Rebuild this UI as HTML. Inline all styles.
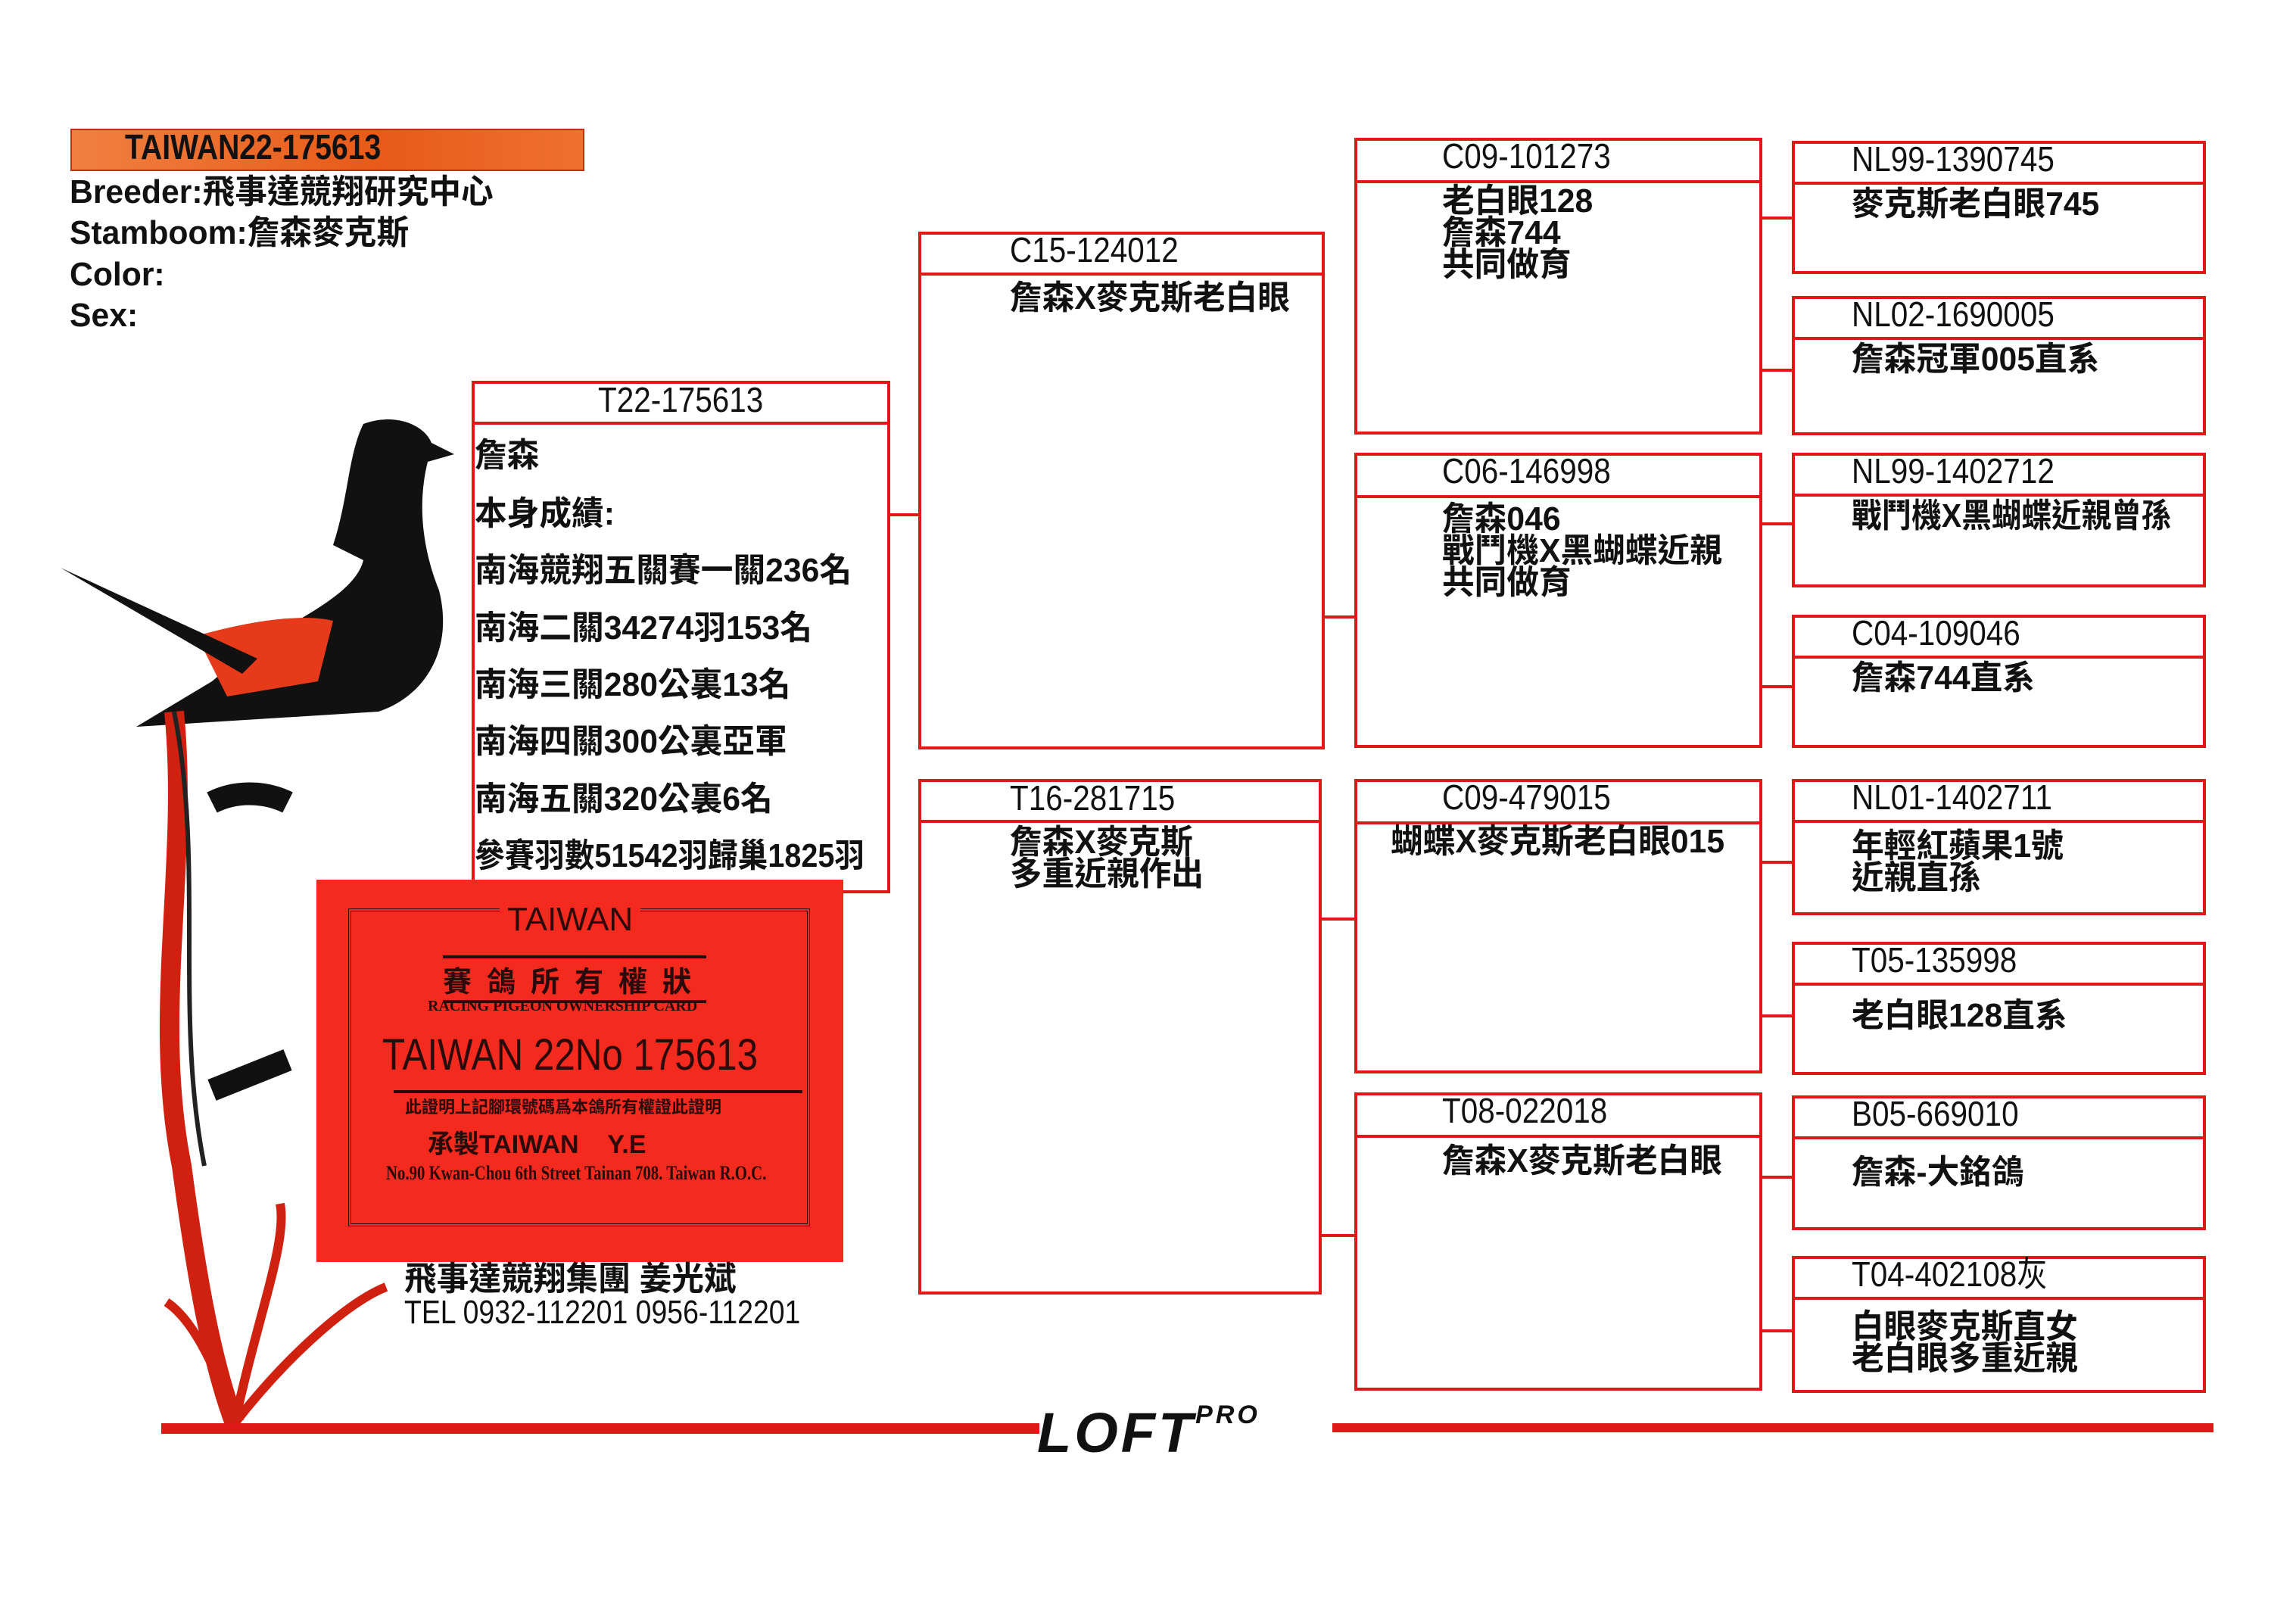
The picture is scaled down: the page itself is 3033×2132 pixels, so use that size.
<!DOCTYPE html>
<html><head><meta charset="utf-8"><style>
body{margin:0;width:3033px;height:2132px;background:#fff;position:relative;overflow:hidden;font-family:"Liberation Sans","Noto Sans CJK TC",sans-serif;font-weight:bold;color:#111}
.a{position:absolute}
.box{position:absolute;border:4px solid #e01818;box-sizing:border-box}
.hl{position:absolute;left:0;right:0;border-top:4px solid #e01818}
.t{position:absolute;white-space:nowrap;font-size:44px;line-height:44px;transform-origin:0 0;transform:scaleX(0.97)}
.h{font-weight:normal;font-size:46px;transform:scaleX(0.88)}
.c{position:absolute;background:#e01818;height:4px}
</style></head><body>

<div class="a" style="left:93px;top:170px;width:675px;height:52px;background:linear-gradient(90deg,#f08040,#e85a18 60%,#f07030);border:2px solid #c03010"></div>
<div class="t" style="left:165px;top:172px;font-size:46px;transform:scaleX(0.85)">TAIWAN22-175613</div>
<div class="t" style="left:92px;top:232px">Breeder:飛事達競翔研究中心</div>
<div class="t" style="left:92px;top:286px">Stamboom:詹森麥克斯</div>
<div class="t" style="left:92px;top:341px">Color:</div>
<div class="t" style="left:92px;top:395px">Sex:</div>

<!-- pigeon -->
<svg class="a" style="left:80px;top:540px" width="560" height="1360" viewBox="0 0 560 1360">
<path d="M400 20 C440 5 480 20 490 45 L520 60 L485 70 C470 130 480 190 500 240 C520 320 480 380 420 400 L260 410 L100 420 L200 360 L260 310 C330 270 390 240 400 200 L360 180 C380 120 380 60 400 20Z" fill="#111"/>
<path d="M180 300 C250 280 320 270 360 280 L340 360 L220 380Z" fill="#e63a1a"/>
<path d="M0 210 L260 330 L240 350Z" fill="#111"/>
<path d="M150 400 C170 600 120 800 160 1000 C180 1150 200 1260 230 1340" stroke="#d02010" stroke-width="26" fill="none"/>
<path d="M150 400 C190 600 150 800 190 1000" stroke="#222" stroke-width="6" fill="none"/>
<path d="M200 520 C240 500 280 510 300 520" stroke="#111" stroke-width="30" fill="none"/>
<path d="M200 900 L300 860" stroke="#111" stroke-width="30"/>
<path d="M230 1340 C260 1200 300 1100 290 1050 M230 1340 C300 1250 380 1180 430 1160 M230 1340 C200 1250 170 1200 140 1180" stroke="#d02010" stroke-width="12" fill="none"/>
</svg>
<div class="c" style="left:213px;top:1880px;width:1160px;height:14px"></div>
<div class="c" style="left:1760px;top:1880px;width:1164px;height:12px"></div>
<div class="a" style="left:1370px;top:1850px;font-size:74px;font-style:italic;font-weight:900;font-family:'Liberation Sans',sans-serif;letter-spacing:4px">LOFT<span style="font-size:34px;vertical-align:top">PRO</span></div>

<!-- gen1 -->
<div class="box" style="left:623px;top:503px;width:553px;height:677px"><div class="hl" style="top:50px"></div></div>
<div class="t h" style="left:790px;top:506px">T22-175613</div>
<div class="t" style="left:627px;top:580px">詹森</div>
<div class="t" style="left:627px;top:657px">本身成績:</div>
<div class="t" style="left:627px;top:732px">南海競翔五關賽一關236名</div>
<div class="t" style="left:627px;top:808px">南海二關34274羽153名</div>
<div class="t" style="left:627px;top:883px">南海三關280公裏13名</div>
<div class="t" style="left:627px;top:958px">南海四關300公裏亞軍</div>
<div class="t" style="left:627px;top:1034px">南海五關320公裏6名</div>
<div class="t" style="left:627px;top:1109px;transform:scaleX(0.9)">參賽羽數51542羽歸巢1825羽</div>

<!-- card -->
<div class="a" style="left:418px;top:1162px;width:696px;height:505px;background:#f42a1e"></div>
<div class="a" style="left:460px;top:1200px;width:610px;height:420px;border:4px double #3a0a0a;box-sizing:border-box"></div>
<div class="a" style="left:660px;top:1190px;font-size:44px;font-weight:normal;color:#2a0a0a;background:#f42a1e;padding:0 10px">TAIWAN</div>
<div class="a" style="left:585px;top:1262px;font-size:38px;color:#2a0a0a;letter-spacing:20px;border-top:4px solid #2a0a0a;border-bottom:4px solid #2a0a0a">賽鴿所有權狀</div>
<div class="a" style="left:565px;top:1318px;font-size:20px;color:#2a0a0a;font-family:'Liberation Serif',serif">RACING PIGEON OWNERSHIP CARD</div>
<div class="a" style="left:505px;top:1360px;font-size:58px;font-weight:normal;color:#2a0a0a;transform:scaleX(0.85);transform-origin:0 0;white-space:nowrap">TAIWAN 22No 175613</div>
<div class="a" style="left:520px;top:1440px;width:540px;border-top:4px solid #2a0a0a"></div>
<div class="a" style="left:535px;top:1445px;font-size:22px;color:#2a0a0a">此證明上記腳環號碼爲本鴿所有權證此證明</div>
<div class="a" style="left:565px;top:1484px;font-size:34px;color:#2a0a0a">承製TAIWAN&nbsp;&nbsp;&nbsp;&nbsp;Y.E</div>
<div class="a" style="left:510px;top:1535px;font-size:26px;color:#2a0a0a;font-family:'Liberation Serif',serif;transform:scaleX(0.8);transform-origin:0 0;white-space:nowrap">No.90 Kwan-Chou 6th Street Tainan 708. Taiwan R.O.C.</div>
<div class="t" style="left:534px;top:1668px">飛事達競翔集團 姜光斌</div>
<div class="t" style="left:534px;top:1712px;font-weight:normal;transform:scaleX(0.85)">TEL 0932-112201 0956-112201</div>

<!-- gen2 -->
<div class="c" style="left:1176px;top:678px;width:37px"></div>
<div class="box" style="left:1213px;top:306px;width:537px;height:684px"><div class="hl" style="top:50px"></div></div>
<div class="t h" style="left:1334px;top:308px">C15-124012</div>
<div class="t" style="left:1334px;top:372px">詹森X麥克斯老白眼</div>
<div class="box" style="left:1213px;top:1029px;width:533px;height:681px"><div class="hl" style="top:50px"></div></div>
<div class="t h" style="left:1334px;top:1032px">T16-281715</div>
<div class="t" style="left:1334px;top:1092px;line-height:42px">詹森X麥克斯<br>多重近親作出</div>

<!-- gen3 connectors -->
<div class="c" style="left:1750px;top:813px;width:39px"></div>
<div class="c" style="left:1746px;top:1212px;width:43px"></div>
<div class="c" style="left:1746px;top:1630px;width:43px"></div>

<!-- gen3 -->
<div class="box" style="left:1789px;top:182px;width:539px;height:392px"><div class="hl" style="top:52px"></div></div>
<div class="t h" style="left:1905px;top:184px">C09-101273</div>
<div class="t" style="left:1905px;top:245px;line-height:42px">老白眼128<br>詹森744<br>共同做育</div>
<div class="box" style="left:1789px;top:598px;width:539px;height:390px"><div class="hl" style="top:52px"></div></div>
<div class="t h" style="left:1905px;top:600px">C06-146998</div>
<div class="t" style="left:1905px;top:665px;line-height:42px">詹森046<br>戰鬥機X黑蝴蝶近親<br>共同做育</div>
<div class="box" style="left:1789px;top:1029px;width:539px;height:389px"><div class="hl" style="top:52px"></div></div>
<div class="t h" style="left:1905px;top:1031px">C09-479015</div>
<div class="t" style="left:1837px;top:1090px">蝴蝶X麥克斯老白眼015</div>
<div class="box" style="left:1789px;top:1443px;width:539px;height:394px"><div class="hl" style="top:52px"></div></div>
<div class="t h" style="left:1905px;top:1445px">T08-022018</div>
<div class="t" style="left:1905px;top:1512px">詹森X麥克斯老白眼</div>

<!-- gen4 connectors -->
<div class="c" style="left:2328px;top:286px;width:40px"></div>
<div class="c" style="left:2328px;top:487px;width:40px"></div>
<div class="c" style="left:2328px;top:690px;width:40px"></div>
<div class="c" style="left:2328px;top:905px;width:40px"></div>
<div class="c" style="left:2328px;top:1137px;width:40px"></div>
<div class="c" style="left:2328px;top:1340px;width:40px"></div>
<div class="c" style="left:2328px;top:1553px;width:40px"></div>
<div class="c" style="left:2328px;top:1756px;width:40px"></div>

<!-- gen4 -->
<div class="box" style="left:2367px;top:186px;width:547px;height:176px"><div class="hl" style="top:50px"></div></div>
<div class="t h" style="left:2446px;top:188px">NL99-1390745</div>
<div class="t" style="left:2446px;top:248px">麥克斯老白眼745</div>
<div class="box" style="left:2367px;top:391px;width:547px;height:184px"><div class="hl" style="top:50px"></div></div>
<div class="t h" style="left:2446px;top:393px">NL02-1690005</div>
<div class="t" style="left:2446px;top:453px">詹森冠軍005直系</div>
<div class="box" style="left:2367px;top:598px;width:547px;height:178px"><div class="hl" style="top:50px"></div></div>
<div class="t h" style="left:2446px;top:600px">NL99-1402712</div>
<div class="t" style="left:2446px;top:660px;transform:scaleX(0.9)">戰鬥機X黑蝴蝶近親曾孫</div>
<div class="box" style="left:2367px;top:812px;width:547px;height:176px"><div class="hl" style="top:50px"></div></div>
<div class="t h" style="left:2446px;top:814px">C04-109046</div>
<div class="t" style="left:2446px;top:874px">詹森744直系</div>
<div class="box" style="left:2367px;top:1029px;width:547px;height:180px"><div class="hl" style="top:50px"></div></div>
<div class="t h" style="left:2446px;top:1031px">NL01-1402711</div>
<div class="t" style="left:2446px;top:1097px;line-height:42px">年輕紅蘋果1號<br>近親直孫</div>
<div class="box" style="left:2367px;top:1244px;width:547px;height:176px"><div class="hl" style="top:50px"></div></div>
<div class="t h" style="left:2446px;top:1246px">T05-135998</div>
<div class="t" style="left:2446px;top:1320px">老白眼128直系</div>
<div class="box" style="left:2367px;top:1447px;width:547px;height:178px"><div class="hl" style="top:50px"></div></div>
<div class="t h" style="left:2446px;top:1449px">B05-669010</div>
<div class="t" style="left:2446px;top:1527px">詹森-大銘鴿</div>
<div class="box" style="left:2367px;top:1659px;width:547px;height:181px"><div class="hl" style="top:50px"></div></div>
<div class="t h" style="left:2446px;top:1661px">T04-402108灰</div>
<div class="t" style="left:2446px;top:1732px;line-height:42px">白眼麥克斯直女<br>老白眼多重近親</div>
</body></html>
